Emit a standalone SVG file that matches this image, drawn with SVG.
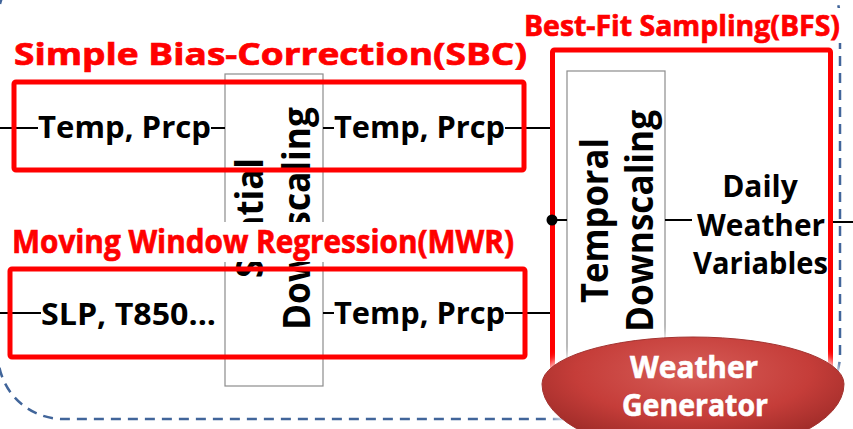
<svg xmlns="http://www.w3.org/2000/svg" width="853" height="429" viewBox="0 0 853 429">
  <defs>
    <style>
      .frame { fill: none; stroke: #41659a; stroke-width: 2.5; stroke-dasharray: 10 7; }
      .box { fill: #ffffff; stroke: #8c8c8c; stroke-width: 1.2; }
      .group { fill: none; stroke: #ff0000; stroke-width: 5; stroke-linejoin: round; }
      .wire { stroke: #000000; stroke-width: 2; fill: none; }
      .var { font-family: "Open Sans", "Noto Sans", "Liberation Sans", sans-serif; font-weight: 700; font-size: 31px; fill: #000000; }
      .vert { font-family: "Open Sans", "Noto Sans", "Liberation Sans", sans-serif; font-weight: 700; font-size: 37px; fill: #000000; text-anchor: middle; }
      .title { font-family: "Open Sans", "Noto Sans", "Liberation Sans", sans-serif; font-weight: 700; font-size: 30px; fill: #ff0000; stroke: #ff0000; stroke-width: 0.7; }
      .out { font-family: "Open Sans", "Noto Sans", "Liberation Sans", sans-serif; font-weight: 700; font-size: 30px; fill: #000000; text-anchor: middle; }
      .wg { font-family: "Open Sans", "Noto Sans", "Liberation Sans", sans-serif; font-weight: 700; font-size: 31px; fill: #ffffff; stroke: #ffffff; stroke-width: 0.6; text-anchor: middle; }
    </style>
    <radialGradient id="wgFill" cx="50%" cy="30%" r="65%">
      <stop offset="0" stop-color="#d65c57"/>
      <stop offset="0.6" stop-color="#c53d39"/>
      <stop offset="1" stop-color="#9c2a27"/>
    </radialGradient>
    <filter id="glow" x="-20%" y="-40%" width="140%" height="180%">
      <feGaussianBlur stdDeviation="4"/>
    </filter>
    <!-- keeps the dashed frame out from under the BFS heading -->
    <mask id="frameMask" maskUnits="userSpaceOnUse" x="-10" y="-60" width="880" height="500">
      <rect x="-10" y="-60" width="880" height="500" fill="#ffffff"/>
      <rect x="520" y="8" width="340" height="35" fill="#000000"/>
    </mask>
  </defs>

  <rect width="853" height="429" fill="#ffffff"/>

  <!-- dashed outer frame -->
  <g id="frame" mask="url(#frameMask)">
    <rect class="frame" x="-2" y="-45" width="842" height="464" rx="65" ry="65"/>
  </g>

  <!-- spatial downscaling block -->
  <g id="spatial-downscaling">
    <rect class="box" x="225" y="74" width="98" height="312"/>
    <text class="vert" transform="translate(263,218) rotate(-90)" textLength="120" lengthAdjust="spacingAndGlyphs">Spatial</text>
    <text class="vert" transform="translate(310,218.5) rotate(-90)" textLength="223" lengthAdjust="spacingAndGlyphs">Downscaling</text>
  </g>

  <!-- temporal downscaling block -->
  <g id="temporal-downscaling">
    <rect class="box" x="567" y="71" width="98" height="300"/>
    <text class="vert" transform="translate(608,220.5) rotate(-90)" textLength="165" lengthAdjust="spacingAndGlyphs">Temporal</text>
    <text class="vert" transform="translate(653,221) rotate(-90)" textLength="222" lengthAdjust="spacingAndGlyphs">Downscaling</text>
  </g>

  <!-- connectors -->
  <g id="connectors">
    <line class="wire" x1="0" y1="128" x2="38" y2="128"/>
    <line class="wire" x1="211" y1="128" x2="225" y2="128"/>
    <line class="wire" x1="323" y1="128" x2="334" y2="128"/>
    <line class="wire" x1="505" y1="128" x2="552" y2="128"/>
    <line class="wire" x1="0" y1="313" x2="41" y2="313"/>
    <line class="wire" x1="323" y1="313" x2="334" y2="313"/>
    <line class="wire" x1="505" y1="313" x2="552" y2="313"/>
    <line class="wire" x1="552" y1="220" x2="567" y2="220"/>
    <line class="wire" x1="665" y1="220" x2="692" y2="220"/>
    <line class="wire" x1="829" y1="222" x2="853" y2="222"/>
  </g>

  <!-- variable nodes -->
  <g id="sbc-input">
    <text class="var" x="38" y="138" textLength="173" lengthAdjust="spacingAndGlyphs">Temp, Prcp</text>
  </g>
  <g id="sbc-output">
    <text class="var" x="334" y="138" textLength="171" lengthAdjust="spacingAndGlyphs">Temp, Prcp</text>
  </g>
  <g id="mwr-input">
    <text class="var" x="41" y="325" textLength="175" lengthAdjust="spacingAndGlyphs">SLP, T850...</text>
  </g>
  <g id="mwr-output">
    <text class="var" x="334" y="324" textLength="171" lengthAdjust="spacingAndGlyphs">Temp, Prcp</text>
  </g>

  <!-- Simple Bias-Correction group -->
  <g id="sbc">
    <rect class="group" x="14" y="82" width="510" height="88" rx="2"/>
    <text class="title" x="14" y="65" textLength="513" lengthAdjust="spacingAndGlyphs">Simple Bias-Correction(SBC)</text>
  </g>

  <!-- Moving Window Regression group -->
  <g id="mwr">
    <rect x="0" y="222" width="521" height="40" fill="#ffffff"/>
    <text class="title" x="12" y="253" textLength="502" lengthAdjust="spacingAndGlyphs" style="font-size:32px">Moving Window Regression(MWR)</text>
    <rect class="group" x="10" y="269" width="515" height="88" rx="2"/>
  </g>

  <!-- Best-Fit Sampling group -->
  <g id="bfs">
    <text class="title" x="524" y="36" textLength="316" lengthAdjust="spacingAndGlyphs" style="font-size:29px">Best-Fit Sampling(BFS)</text>
    <rect class="group" x="552.5" y="50" width="278" height="335" rx="2"/>
    <circle cx="552" cy="220" r="5.5" fill="#000000"/>
  </g>

  <!-- daily output -->
  <g id="daily-weather-variables">
    <text class="out" x="760" y="197">Daily</text>
    <text class="out" x="761" y="236" textLength="128" lengthAdjust="spacingAndGlyphs">Weather</text>
    <text class="out" x="760.5" y="274" textLength="135" lengthAdjust="spacingAndGlyphs">Variables</text>
  </g>

  <!-- weather generator -->
  <g id="weather-generator">
    <path d="M 537 385 A 156 52 0 0 1 849 385 A 156 74 0 0 1 537 385 Z" fill="#ffffff" opacity="0.85" filter="url(#glow)"/>
    <path d="M 542 384 A 151 47 0 0 1 844 384 A 151 70 0 0 1 542 384 Z" fill="url(#wgFill)" stroke="#a33330" stroke-width="1"/>
    <text class="wg" x="694" y="378" textLength="128" lengthAdjust="spacingAndGlyphs">Weather</text>
    <text class="wg" x="695" y="416" textLength="146" lengthAdjust="spacingAndGlyphs">Generator</text>
  </g>
</svg>
